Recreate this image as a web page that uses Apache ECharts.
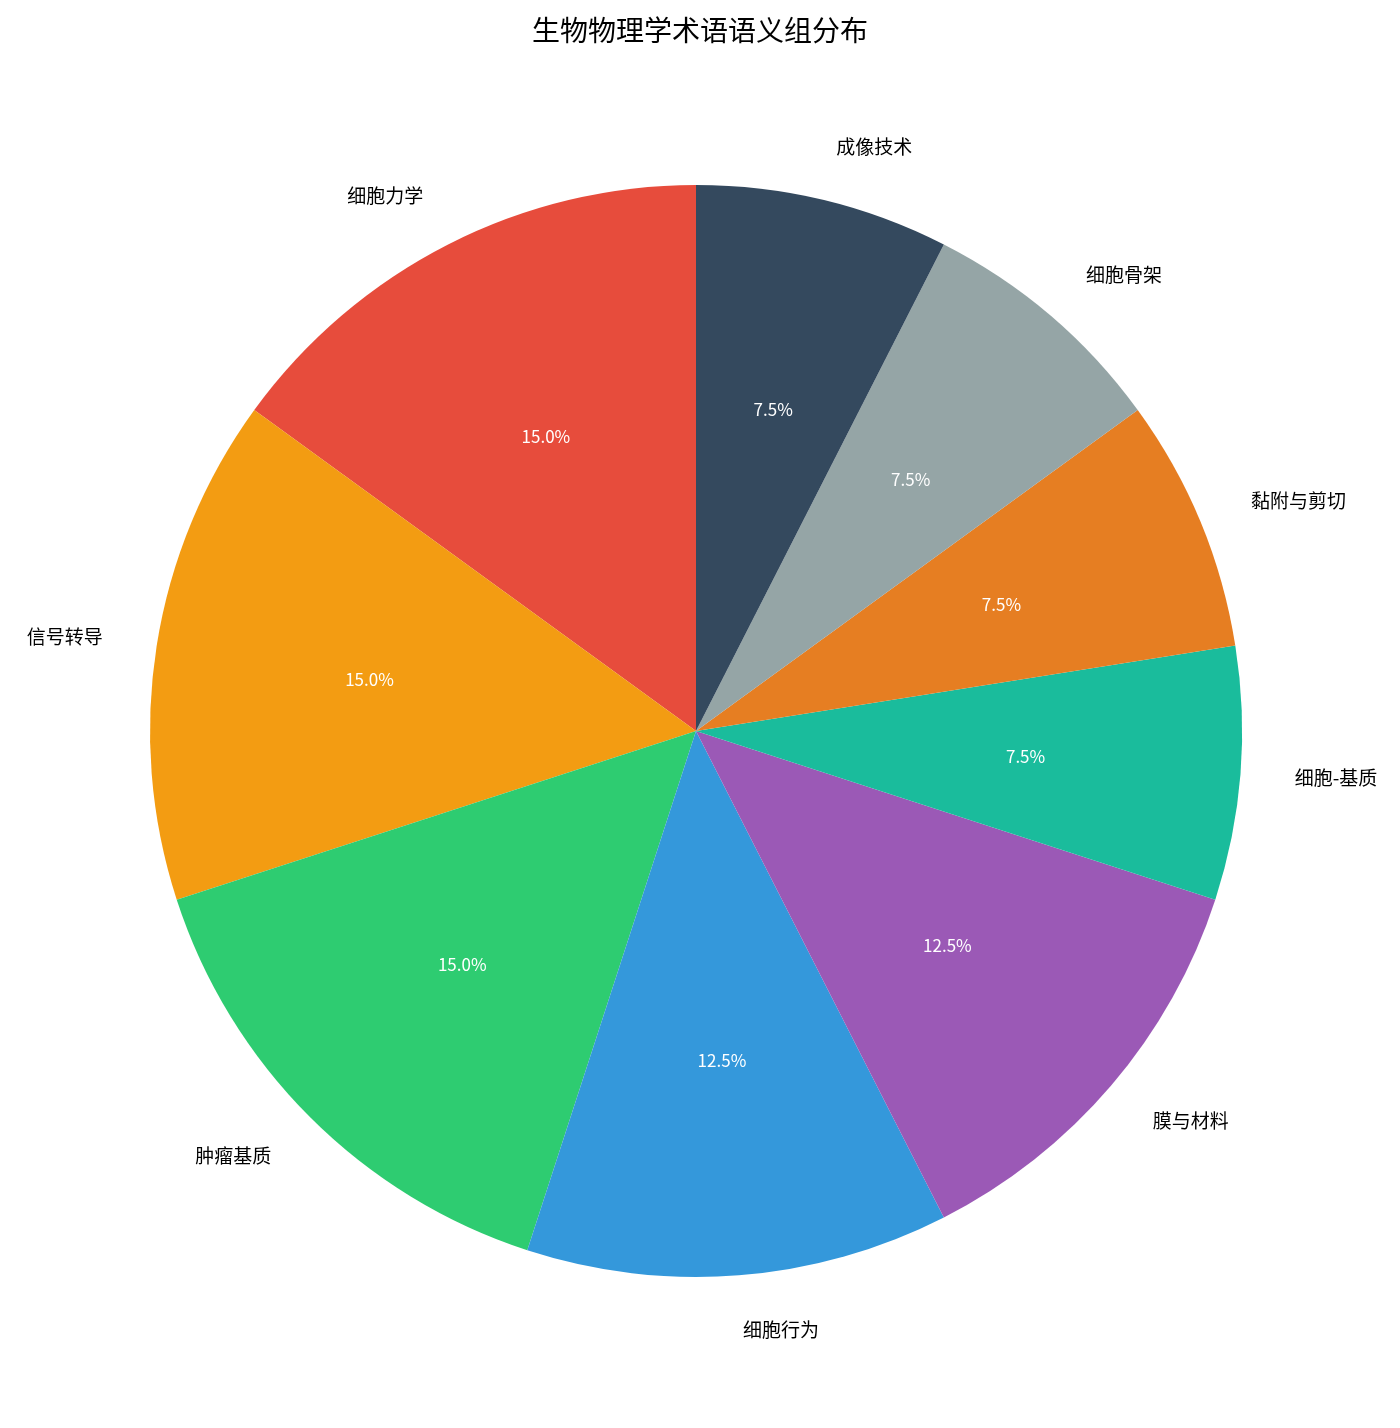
<!DOCTYPE html>
<html lang="zh">
<head>
    <meta charset="UTF-8">
    <title>生物物理学术语语义组分布</title>
    <script type="text/javascript" src="https://cdn.jsdelivr.net/npm/echarts@6/dist/echarts.min.js"></script>
    <style>
        html, body { margin: 0; padding: 0; background: #fff; }
        #main { width: 1400px; height: 1428px; }
    </style>
</head>
<body>
<div id="main"></div>
<script type="text/javascript">
    // 语义组及术语数量
    var groups = ["细胞力学", "信号转导", "肿瘤基质", "细胞行为", "膜与材料", "细胞-基质", "黏附与剪切", "细胞骨架", "成像技术"];
    var counts = [6, 6, 6, 5, 5, 3, 3, 3, 3];
    var colors = ["#e74c3c", "#f39c12", "#2ecc71", "#3498db", "#9b59b6", "#1abc9c", "#e67e22", "#95a5a6", "#34495e"];

    var font = "'Noto Sans CJK SC', 'Noto Sans', sans-serif";
    var center = [696, 731];
    var R = 546;

    var pieData = groups.map(function (g, i) {
        return {name: g, value: counts[i], itemStyle: {color: colors[i]}};
    });
    var pctData = groups.map(function (g, i) {
        return {name: g, value: counts[i]};
    });

    var option = {
        backgroundColor: '#ffffff',
        animation: false,
        title: {
            text: '生物物理学术语语义组分布',
            left: 'center',
            top: 11,
            textStyle: {fontFamily: font, fontSize: 28, fontWeight: 'normal', color: '#000'}
        },
        series: [
            {
                // 扇区 + 外侧名称
                type: 'pie',
                center: center,
                radius: [0, R],
                startAngle: 90,
                clockwise: false,
                avoidLabelOverlap: false,
                silent: true,
                itemStyle: {borderWidth: 0},
                label: {
                    show: true,
                    position: 'outside',
                    distanceToLabelLine: 0,
                    fontFamily: font,
                    fontSize: 19,
                    color: '#000',
                    formatter: '{b}'
                },
                labelLine: {show: false, length: R * 0.1, length2: 0},
                data: pieData
            },
            {
                // 百分比标签 (0.6 半径处)
                type: 'pie',
                center: center,
                radius: [R * 0.2, R],
                startAngle: 90,
                clockwise: false,
                avoidLabelOverlap: false,
                silent: true,
                itemStyle: {color: 'rgba(0,0,0,0)', borderWidth: 0},
                label: {
                    show: true,
                    position: 'inside',
                    fontFamily: font,
                    fontSize: 17,
                    color: '#fff',
                    formatter: function (p) { return p.percent.toFixed(1) + '%'; }
                },
                labelLine: {show: false},
                data: pctData
            }
        ]
    };

    var myChart = echarts.init(document.getElementById('main'));
    myChart.setOption(option);
</script>
</body>
</html>
